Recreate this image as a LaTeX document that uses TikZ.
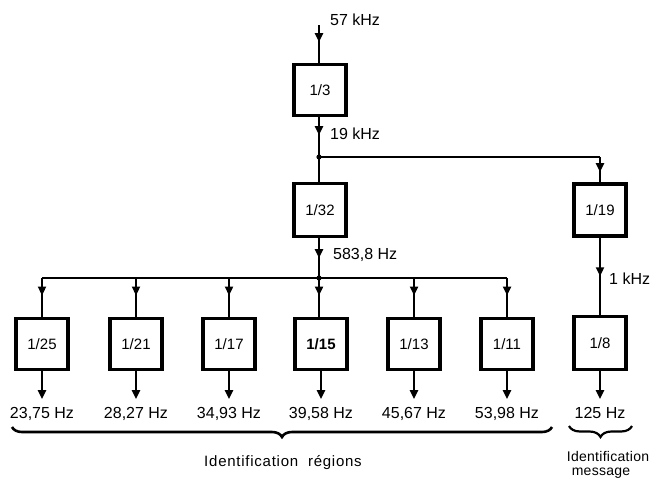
\documentclass[tikz,border=0pt]{standalone}
\usepackage{fontspec}
\setmainfont{Liberation Sans}
\usetikzlibrary{arrows.meta,decorations.markings,decorations.pathreplacing}
\begin{document}
\begin{tikzpicture}[x=1pt,y=-1pt,
  divbox/.style={draw,line width=3.2pt,minimum width=52pt,minimum height=51pt,inner sep=0pt,font=\fontsize{15}{17}\selectfont},
  wire/.style={line width=2.8pt},
  thinwire/.style={line width=1.8pt},
  midarrow/.style={postaction={decorate},decoration={markings,mark=at position #1 with {\arrow{Triangle[length=9pt,width=8pt]}}}},
  endarrow/.style={-{Triangle[length=9pt,width=8pt]}},
  freq/.style={font=\fontsize{16}{18}\selectfont,inner sep=0pt},
  note/.style={font=\fontsize{15}{17}\selectfont\addfontfeature{LetterSpace=5},inner sep=0pt}
]
\useasboundingbox (0,0) rectangle (657,480);

% top chain
\coordinate (in57) at (319,25);
\node[divbox] (b3) at (320,90) {1/3};
\node[divbox,minimum height=53pt] (b32) at (320,210) {1/32};
\node[divbox,minimum height=52pt] (b19) at (600,210) {1/19};
\coordinate (j1) at (319,157);
\coordinate (j2) at (319,278);

\draw[wire,midarrow=0.45] (in57) -- (b3.north -| in57);
\node[freq,anchor=west] (l57) at (330,20) {57 kHz};

\draw[wire,midarrow=0.45] (b3.south -| j1) -- (j1);
\node[freq,anchor=west] (l19) at (330,134) {19 kHz};
\fill (j1) circle (2.6pt);
\draw[wire] (j1) -- (b32.north -| j1);
\draw[thinwire] (j1) -- (j1 -| b19);
\draw[wire,midarrow=0.6] (j1 -| b19) -- (b19.north);

\draw[wire,midarrow=0.5] (b32.south -| j2) -- (j2);
\node[freq,anchor=west] (l583) at (333,255) {583,8 Hz};
\fill (j2) circle (2.6pt);

% lower boxes
\node[divbox] (b25) at (42,344) {1/25};
\node[divbox] (b21) at (136,344) {1/21};
\node[divbox] (b17) at (229,344) {1/17};
\node[divbox] (b15) at (321,344) {\textbf{1/15}};
\node[divbox] (b13) at (414,344) {1/13};
\node[divbox] (b11) at (507,344) {1/11};
\node[divbox,minimum height=53pt] (b8) at (600,343) {1/8};

\draw[thinwire] (j2 -| b25) -- (j2 -| b11);
\foreach \b in {b25,b21,b17,b13,b11}{
  \draw[wire,midarrow=0.45] (j2 -| \b) -- (\b.north);
}
\draw[wire,midarrow=0.45] (j2) -- (b15.north -| j2);

\draw[wire,midarrow=0.5] (b19.south) -- (b8.north);
\node[freq,anchor=west] (l1k) at (609,279) {1 kHz};

% outputs
\foreach \b/\t in {b25/{23,75 Hz},b21/{28,27 Hz},b17/{34,93 Hz},b15/{39,58 Hz},b13/{45,67 Hz},b11/{53,98 Hz},b8/{125 Hz}}{
  \coordinate (\b o) at ([yshift=-28pt]\b.south);
  \draw[wire,endarrow] (\b.south) -- (\b o);
  \node[freq,anchor=north] at ([yshift=-8pt]\b o) {\t};
}

% braces
\coordinate (br1a) at (12,427);
\coordinate (br1b) at (552,427);
\draw[line width=2.6pt,decorate,decoration={brace,mirror,amplitude=10pt,aspect=0.5}] (br1a) -- (br1b);
\node[note] (t1) at (283,463) {Identification\ \ régions};

\coordinate (br2a) at (569,426);
\coordinate (br2b) at (632,426);
\draw[line width=2.2pt,decorate,decoration={brace,mirror,amplitude=11pt}] (br2a) -- (br2b);
\node[note,font=\fontsize{14}{16}\selectfont\addfontfeature{LetterSpace=2}] (t2) at (608,456) {Identification};
\node[note,font=\fontsize{14}{16}\selectfont\addfontfeature{LetterSpace=2}] (t3) at (601,473) {message};
\end{tikzpicture}
\end{document}
